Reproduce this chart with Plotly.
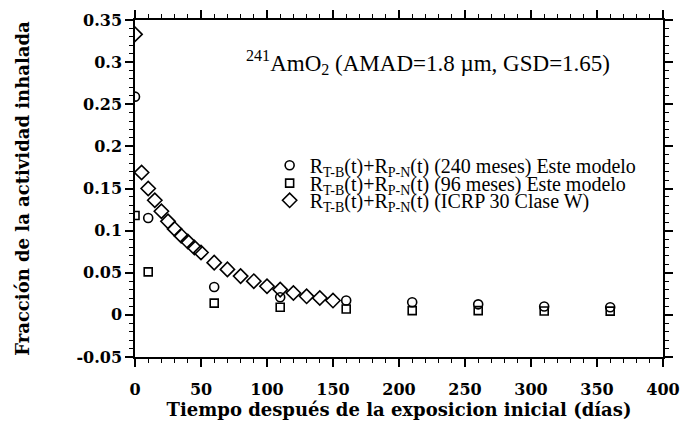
import plotly.graph_objects as go

# Data
t_model = [0, 10, 60, 110, 160, 210, 260, 310, 360]
r240 = [0.259, 0.115, 0.033, 0.021, 0.017, 0.015, 0.0125, 0.010, 0.009]
r96 = [0.118, 0.051, 0.014, 0.009, 0.007, 0.005, 0.005, 0.0046, 0.0045]
t_icrp = [0, 5, 10, 15, 20, 25, 30, 35, 40, 45, 50, 60, 70, 80, 90, 100, 110, 120, 130, 140, 150]
r_icrp = [0.333, 0.169, 0.150, 0.136, 0.123, 0.111, 0.102, 0.094, 0.087, 0.080, 0.074,
          0.062, 0.054, 0.046, 0.040, 0.034, 0.030, 0.026, 0.022, 0.020, 0.017]

names = [
    "R<sub>T-B</sub>(t)+R<sub>P-N</sub>(t) (240 meses) Este modelo",
    "R<sub>T-B</sub>(t)+R<sub>P-N</sub>(t) (96 meses) Este modelo",
    "R<sub>T-B</sub>(t)+R<sub>P-N</sub>(t) (ICRP 30 Clase W)",
]
x_ticks = [0, 50, 100, 150, 200, 250, 300, 350, 400]
y_ticks = [-0.05, 0, 0.05, 0.1, 0.15, 0.2, 0.25, 0.3, 0.35]
y_ticktext = ["-0.05", "0", "0.05", "0.1", "0.15", "0.2", "0.25", "0.3", "0.35"]

fig = go.Figure()
fig.add_trace(go.Scatter(x=t_model, y=r240, mode="markers", name=names[0], legend="legend",
                         marker=dict(symbol="circle-open", size=9, color="black",
                                     line=dict(width=1.6, color="black"))))
fig.add_trace(go.Scatter(x=t_model, y=r96, mode="markers", name=names[1], legend="legend2",
                         marker=dict(symbol="square-open", size=8, color="black",
                                     line=dict(width=1.6, color="black"))))
fig.add_trace(go.Scatter(x=t_icrp, y=r_icrp, mode="markers", name=names[2], legend="legend3",
                         marker=dict(symbol="diamond-open", size=11, color="black",
                                     line=dict(width=1.6, color="black"))))

legfont = dict(family="Liberation Serif", size=20, color="black")
def leg(y):
    return dict(x=0.255, y=y, xanchor="left", yanchor="middle", bgcolor="rgba(0,0,0,0)",
                font=legfont, itemwidth=30)

tickfont = dict(family="DejaVu Serif", size=16, color="black", weight="bold")
fig.update_layout(
    width=683, height=423,
    margin=dict(l=135, r=20, t=20, b=66, autoexpand=False),
    paper_bgcolor="white", plot_bgcolor="white",
    showlegend=True,
    legend=leg(0.569), legend2=leg(0.516), legend3=leg(0.465),
    annotations=[dict(
        text="<sup>241</sup>AmO<sub>2</sub> (AMAD=1.8 µm, GSD=1.65)",
        x=0.207, y=0.874, xref="paper", yref="paper", xanchor="left", yanchor="middle",
        showarrow=False, font=dict(family="Liberation Serif", size=23, color="black"))],
)
fig.update_xaxes(
    range=[0, 400], tickvals=x_ticks, ticktext=[str(v) for v in x_ticks],
    showline=True, linecolor="black", linewidth=1.5, mirror="allticks",
    ticks="outside", ticklen=8, tickwidth=1.5, tickcolor="black",
    minor=dict(dtick=10, ticks="outside", ticklen=4, tickwidth=1.2, tickcolor="black"),
    showgrid=False, zeroline=False, tickfont=tickfont, ticklabelstandoff=9,
    automargin=False,
    title=dict(text="Tiempo después de la exposicion inicial (días)",
               font=dict(family="DejaVu Serif", size=18, color="black", weight="bold"),
               standoff=2),
)
fig.update_yaxes(
    range=[-0.05, 0.35], tickvals=y_ticks, ticktext=y_ticktext,
    showline=True, linecolor="black", linewidth=1.5, mirror="allticks",
    ticks="outside", ticklen=8, tickwidth=1.5, tickcolor="black",
    minor=dict(dtick=0.01, ticks="outside", ticklen=4, tickwidth=1.2, tickcolor="black"),
    showgrid=False, zeroline=False, tickfont=tickfont, automargin=False,
    title=dict(text="Fracción de la actividad inhalada",
               font=dict(family="DejaVu Serif", size=18, color="black", weight="bold"),
               standoff=42),
)
fig.write_html("out.html", config={"displayModeBar": False},
               post_script="document.body.style.margin='0';document.body.style.overflow='hidden';")
